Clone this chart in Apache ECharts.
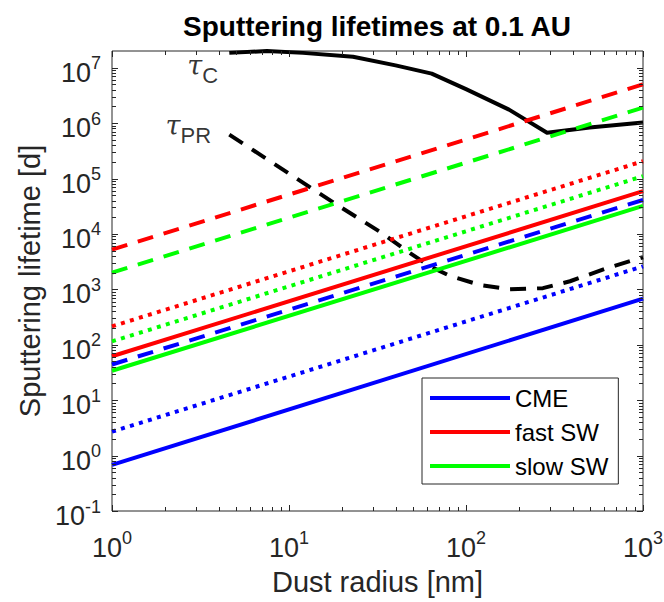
<!DOCTYPE html>
<html><head><meta charset="utf-8">
<script src="https://cdn.jsdelivr.net/npm/echarts@6/dist/echarts.min.js"></script>
<style>html,body{margin:0;padding:0;background:#fff}#chart{width:664px;height:602px}</style>
</head><body><div id="chart"></div>
<script>
// ---- data ----
const radiusEnds = [1, 1000];               // dust radius [nm] at both ends of the straight power-law lines
const cmeSolid   = [0.68, 680];
const cmeDotted  = [2.7, 2600];
const cmeDashed  = [44, 41000];
const fastSolid  = [62, 59000];
const fastDotted = [215, 205000];
const fastDashed = [5200, 5000000];
const slowSolid  = [34, 32000];
const slowDotted = [115, 110000];
const slowDashed = [2000, 1900000];

const tauCRadius = [4.6, 7.5, 12, 23, 40, 64, 100, 175, 287, 500, 1000];
const tauC       = [1.85e7, 2.0e7, 1.85e7, 1.58e7, 1.1e7, 7.8e6, 4.1e6, 1.75e6, 6.7e5, 8.3e5, 1.03e6];
const tauPRRadius = [4.6, 19.4, 32.7, 48.3, 62.6, 81, 120, 177, 272, 387, 624, 1000];
const tauPR       = [6.2e5, 3.1e4, 1.09e4, 4.5e3, 2.6e3, 1.75e3, 1.2e3, 1.0e3, 1.05e3, 1.4e3, 2.4e3, 3.8e3];

const legendNames = ['CME', 'fast SW', 'slow SW'];
const xMajorTicks = [1, 10, 100, 1000];
const yMajorTicks = [0.1, 1, 10, 100, 1e3, 1e4, 1e5, 1e6, 1e7];
const minorMultipliers = [2, 3, 4, 5, 6, 7, 8, 9];
const xRange = [1, 1000];
const yRange = [0.1, 2e7];

// ---- helpers ----
const FONT = '"Liberation Sans", Arial, Helvetica, sans-serif';
const AX = '#262626';
function pairs(xs, ys) { return xs.map((x, i) => [x, ys[i]]); }
function expLabel(v) {
  const l = Math.log10(v), e = Math.round(l);
  if (Math.abs(l - e) > 1e-6) return '';
  return '{b|10}{s|' + e + '}';
}
const labelRich = {
  b: { fontSize: 27, fontFamily: FONT, color: AX, lineHeight: 37, verticalAlign: 'bottom' },
  s: { fontSize: 18, fontFamily: FONT, color: AX, lineHeight: 18, padding: [5, 0, 0, 0], verticalAlign: 'top' }
};

// tick specs: [x, y, kind(0=x,1=y), major]
const tickData = [];
function addTicks(majors, range, kind) {
  majors.forEach(m => {
    if (m >= range[0] && m <= range[1]) tickData.push(kind === 0 ? [m, 1, 0, 1] : [1, m, 1, 1]);
    minorMultipliers.forEach(k => {
      const v = m * k;
      if (v > range[0] && v < range[1]) tickData.push(kind === 0 ? [v, 1, 0, 0] : [1, v, 1, 0]);
    });
  });
}
addTicks(xMajorTicks, xRange, 0);
addTicks(yMajorTicks, yRange, 1);

function renderTick(params, api) {
  const kind = api.value(2), major = api.value(3);
  const len = major ? 6 : 4;
  const cs = params.coordSys;
  const st = { stroke: AX, lineWidth: 1 };
  if (kind === 0) {
    const px = Math.round(api.coord([api.value(0), 1])[0]) + 0.5;
    const yb = cs.y + cs.height, yt = cs.y;
    return { type: 'group', children: [
      { type: 'line', shape: { x1: px, y1: yb, x2: px, y2: yb - len }, style: st },
      { type: 'line', shape: { x1: px, y1: yt, x2: px, y2: yt + len }, style: st }
    ]};
  } else {
    const py = Math.round(api.coord([1, api.value(1)])[1]) + 0.5;
    const xl = cs.x, xr = cs.x + cs.width;
    return { type: 'group', children: [
      { type: 'line', shape: { x1: xl, y1: py, x2: xl + len, y2: py }, style: st },
      { type: 'line', shape: { x1: xr, y1: py, x2: xr - len, y2: py }, style: st }
    ]};
  }
}

const DASH = [16, 11];
const DOT = [4, 5.4];
function lineSeries(name, color, ys, type, xs) {
  return {
    name: name, type: 'line', data: pairs(xs || radiusEnds, ys),
    symbol: 'none', silent: true, z: 3,
    lineStyle: { color: color, width: 4, type: type, cap: 'butt', join: 'round' },
    itemStyle: { color: color }
  };
}

const option = {
  animation: false,
  backgroundColor: '#fff',
  title: {
    text: 'Sputtering lifetimes at 0.1 AU',
    left: 377, top: 12, textAlign: 'center', padding: 0,
    textStyle: { fontSize: 28, fontWeight: 'bold', fontFamily: FONT, color: '#000', lineHeight: 28 }
  },
  grid: {
    left: 112, right: 21, top: 51, bottom: 91,
    show: true, borderColor: AX, borderWidth: 1, backgroundColor: '#fff',
    containLabel: false, outerBoundsMode: 'none'
  },
  legend: {
    orient: 'vertical', left: 422, top: 378,
    data: legendNames, icon: 'rect', itemWidth: 80, itemHeight: 4, itemGap: 10,
    selectedMode: false,
    textStyle: { fontSize: 24, fontFamily: FONT, color: '#000', lineHeight: 24 },
    backgroundColor: '#fff', borderColor: AX, borderWidth: 1, borderRadius: 0,
    padding: [8, 10, 6, 8]
  },
  xAxis: {
    type: 'log', logBase: 10, min: xRange[0], max: xRange[1],
    name: 'Dust radius [nm]', nameLocation: 'middle', nameGap: 56,
    nameTextStyle: { fontSize: 29, fontFamily: FONT, color: AX },
    axisLine: { show: false }, axisTick: { show: false }, splitLine: { show: false },
    axisLabel: { formatter: expLabel, rich: labelRich, margin: 13, showMinLabel: true, showMaxLabel: true, hideOverlap: false }
  },
  yAxis: {
    type: 'log', logBase: 10, min: yRange[0], max: yRange[1],
    name: 'Sputtering lifetime [d]', nameLocation: 'middle', nameGap: 67,
    nameTextStyle: { fontSize: 29, fontFamily: FONT, color: AX },
    axisLine: { show: false }, axisTick: { show: false }, splitLine: { show: false },
    axisLabel: { formatter: expLabel, rich: labelRich, margin: 11, showMinLabel: true, showMaxLabel: true, hideOverlap: false }
  },
  series: [
    lineSeries('tau_C', '#000', tauC, 'solid', tauCRadius),
    lineSeries('tau_PR', '#000', tauPR, DASH, tauPRRadius),
    lineSeries('CME', '#0000ff', cmeSolid, 'solid'),
    lineSeries('fast SW', '#ff0000', fastSolid, 'solid'),
    lineSeries('slow SW', '#00ff00', slowSolid, 'solid'),
    lineSeries('CME dotted', '#0000ff', cmeDotted, DOT),
    lineSeries('fast SW dotted', '#ff0000', fastDotted, DOT),
    lineSeries('slow SW dotted', '#00ff00', slowDotted, DOT),
    lineSeries('CME dashed', '#0000ff', cmeDashed, DASH),
    lineSeries('fast SW dashed', '#ff0000', fastDashed, DASH),
    lineSeries('slow SW dashed', '#00ff00', slowDashed, DASH),
    {
      name: 'ticks', type: 'custom', renderItem: renderTick, data: tickData,
      encode: { x: 0, y: 1 }, silent: true, clip: false, z: 5
    },
    {
      name: 'labels', type: 'scatter', symbolSize: 0, silent: true, z: 6,
      data: [
        { value: [3.25, 1.1e7], name: 'C' },
        { value: [2.7, 8.9e5], name: 'PR' }
      ],
      label: {
        show: true, position: 'inside',
        formatter: p => '{t|\u03C4}{c|' + p.name + '}',
        rich: {
          t: { fontSize: 27, fontStyle: 'italic', fontFamily: '"DejaVu Serif", "Liberation Serif", serif', color: '#000', lineHeight: 27, verticalAlign: 'top' },
          c: { fontSize: 22, fontFamily: FONT, color: '#000', lineHeight: 22, padding: [20, 0, 0, 0] }
        }
      }
    }
  ]
};

const chart = echarts.init(document.getElementById('chart'), null, { renderer: 'svg', width: 664, height: 602 });
chart.setOption(option);
</script>
</body></html>
